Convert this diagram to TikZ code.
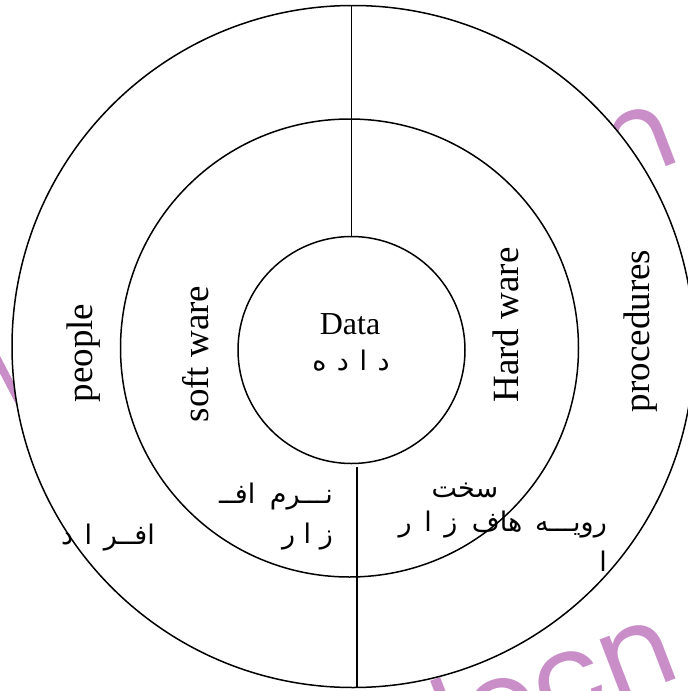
\documentclass[tikz,border=0pt]{standalone}
\usepackage{fontspec}
\setmainfont{Liberation Serif}
\newfontfamily\arabicfont[Script=Arabic]{DejaVu Sans}
\newfontfamily\markfont{Poppins}
\TeXXeTstate=1
\definecolor{markpink}{RGB}{201,141,199}
\newcommand{\fa}[1]{\beginR #1\endR}
\begin{document}
\begin{tikzpicture}[x=1pt,y=-1pt,
	ring/.style={draw, circle, line width=1.5pt, inner sep=0pt},
	enlabel/.style={rotate=90, inner sep=0pt, font=\fontsize{37}{37}\selectfont},
	falabel/.style={inner sep=0pt, align=right, font=\fontsize{27}{40}\arabicfont},
	watermark/.style={text=markpink, rotate=21, anchor=base east, inner sep=0pt, font=\fontsize{116}{116}\markfont}]
	\useasboundingbox (0,0) rectangle (688,691);
	% watermark, seen only outside the rings
	\node[watermark] (marktop) at (684,160) {docn};
	\node[watermark] (markbot) at (684,676) {docn};
	\draw[markpink, line width=8pt] (-4,357) -- (22,407);
	% rings
	\node[ring, fill=white, minimum size=682pt] (outer) at (353,346.5) {};
	\node[ring, minimum size=458pt] (middle) at (349.5,348) {};
	\node[ring, minimum size=227pt] (inner) at (351.5,350) {};
	\draw[line width=1.5pt] (inner.north) -- (inner.north |- outer.north);
	\draw[line width=1.5pt] ([xshift=5.5pt,yshift=-3pt]inner.south) -- ([xshift=5.5pt]inner.south |- outer.south);
	% labels
	\node[enlabel] (people) at (84,353) {people};
	\node[enlabel] (soft) at (196,354) {soft ware};
	\node[enlabel] (hard) at (506,325) {Hard ware};
	\node[enlabel] (proc) at (641,331) {procedures};
	\node[inner sep=0pt, font=\fontsize{32}{32}\selectfont] (data) at (350,324) {Data};
	\node[falabel] (datafa) at (351,361) {\fa{د\hspace{2pt} ا\hspace{2pt} د\hspace{2pt} ه}};
	\node[falabel, anchor=east] (softfa) at (333,517) {\fa{نـــرم\hspace{6pt} افــ}\\\fa{ز ا ر}};
	\node[falabel] (hardfa) at (465,490) {\fa{سخت}};
	\node[falabel, anchor=north east] (procfa) at (607,511) {\fa{رویـــه\hspace{4pt} هاف\hspace{6pt} ز\hspace{4pt} ا\hspace{4pt} ر}\\\fa{ا\hspace{4pt}}};
	\node[falabel] (peoplefa) at (108,538) {\fa{افــر\hspace{3pt} ا\hspace{3pt} د}};
\end{tikzpicture}
\end{document}
